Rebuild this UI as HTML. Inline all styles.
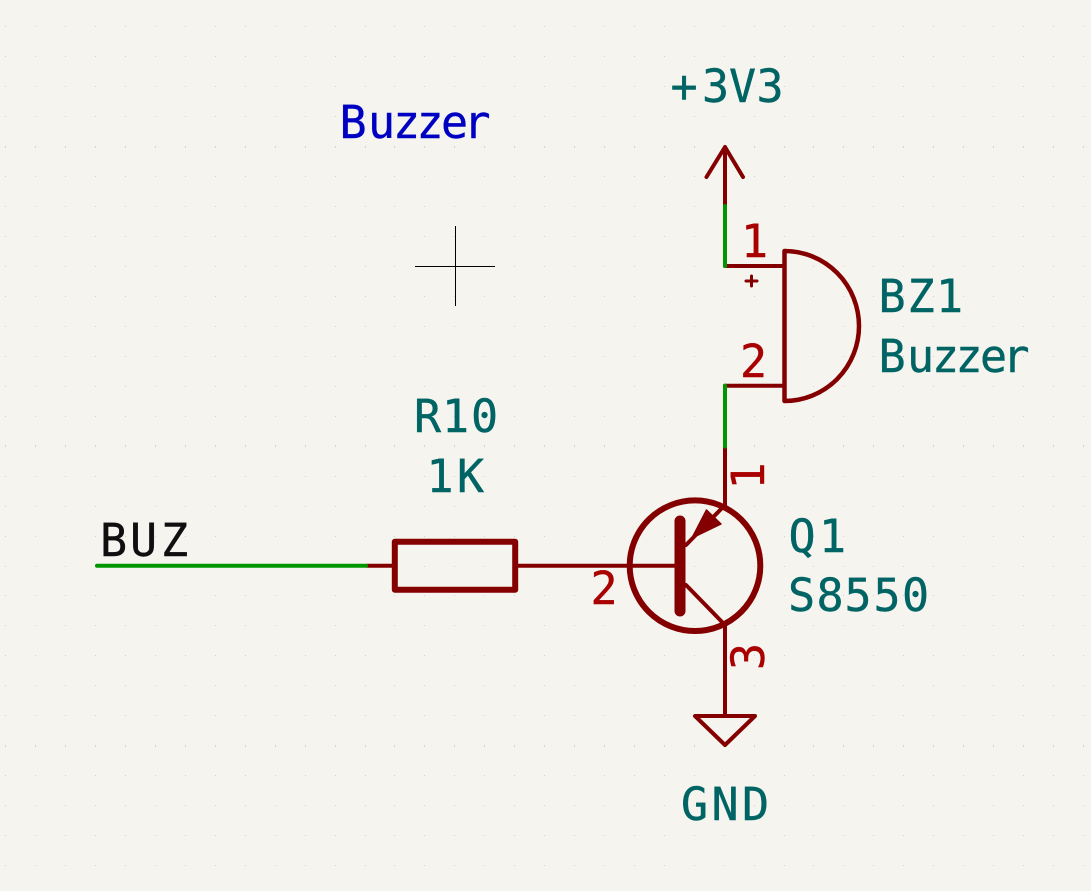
<!DOCTYPE html>
<html>
<head>
<meta charset="utf-8">
<title>Buzzer schematic</title>
<style>
html,body{margin:0;padding:0;background:#f5f4ef;width:1091px;height:891px;overflow:hidden}
svg{display:block}
text{font-family:"DejaVu Sans Mono","Liberation Mono",monospace;font-size:45px;text-anchor:middle;stroke-width:.4;stroke:currentColor}
.t{fill:#006464;color:#006464}
.p{fill:#a90000;color:#a90000}
.s{stroke:#840000;fill:none;stroke-linecap:round;stroke-linejoin:round}
.w{stroke:#009600;fill:none;stroke-width:4;stroke-linecap:round}
</style>
</head>
<body>
<svg xmlns="http://www.w3.org/2000/svg" width="1091" height="891" viewBox="0 0 1091 891">
<defs>
<path id="row" d="M5 0h1v1h-1zM35 0h1v1h-1zM65 0h1v1h-1zM95 0h1v1h-1zM125 0h1v1h-1zM155 0h1v1h-1zM185 0h1v1h-1zM215 0h1v1h-1zM245 0h1v1h-1zM275 0h1v1h-1zM305 0h1v1h-1zM335 0h1v1h-1zM365 0h1v1h-1zM394 0h1v1h-1zM424 0h1v1h-1zM454 0h1v1h-1zM484 0h1v1h-1zM514 0h1v1h-1zM544 0h1v1h-1zM574 0h1v1h-1zM604 0h1v1h-1zM634 0h1v1h-1zM664 0h1v1h-1zM694 0h1v1h-1zM724 0h1v1h-1zM754 0h1v1h-1zM784 0h1v1h-1zM813 0h1v1h-1zM843 0h1v1h-1zM873 0h1v1h-1zM903 0h1v1h-1zM933 0h1v1h-1zM963 0h1v1h-1zM993 0h1v1h-1zM1023 0h1v1h-1zM1053 0h1v1h-1zM1083 0h1v1h-1z"/>
</defs>
<rect width="1091" height="891" fill="#f5f4ef"/>
<g fill="#d3d2cd" shape-rendering="crispEdges">
<use href="#row" y="26"/><use href="#row" y="56"/><use href="#row" y="86"/><use href="#row" y="116"/><use href="#row" y="146"/><use href="#row" y="147"/><use href="#row" y="176"/><use href="#row" y="206"/><use href="#row" y="236"/><use href="#row" y="266"/><use href="#row" y="296"/><use href="#row" y="326"/><use href="#row" y="356"/><use href="#row" y="386"/><use href="#row" y="416"/><use href="#row" y="445"/><use href="#row" y="446"/><use href="#row" y="476"/><use href="#row" y="506"/><use href="#row" y="536"/><use href="#row" y="566"/><use href="#row" y="595"/><use href="#row" y="625"/><use href="#row" y="655"/><use href="#row" y="685"/><use href="#row" y="715"/><use href="#row" y="745"/><use href="#row" y="746"/><use href="#row" y="775"/><use href="#row" y="805"/><use href="#row" y="835"/><use href="#row" y="865"/>
</g>

<!-- crosshair -->
<path d="M415 266.5H495M455.5 226V306" stroke="#000" stroke-width="1" fill="none"/>

<!-- power symbol -->
<path class="s" stroke-width="4" d="M725 206V147M706.5 177L725 147L743 177"/>
<!-- buzzer -->
<path class="s" stroke-width="4" d="M725 266H784M725 385.7H784"/>
<path class="s" stroke-width="4.5" d="M784.5 251V401A74.5 75 0 0 0 784.5 251Z"/>
<path class="s" stroke-width="3" d="M746 281H757M751.5 276V286" stroke-linecap="butt"/>
<!-- transistor -->
<path class="s" stroke-width="4" d="M725 446V505L686 545M686 585L725 625V716"/>
<circle cx="695" cy="565.7" r="65.3" fill="none" stroke="#840000" stroke-width="6"/>
<path class="s" stroke-width="11" d="M680 521V611"/>
<path d="M706.5 510L721 524L692 538Z" fill="#840000" stroke="#840000" stroke-width="1.5" stroke-linejoin="round"/>
<path class="s" stroke-width="4" d="M367 565.7H394M515 565.7H680"/>
<!-- resistor -->
<rect x="394.8" y="541.8" width="120.4" height="48" fill="none" stroke="#840000" stroke-width="6" stroke-linejoin="round"/>
<!-- gnd -->
<path class="s" stroke-width="4" d="M695 716H755L725 745Z"/>

<!-- wires -->
<path class="w" stroke-linecap="butt" d="M725 206V266"/>
<circle cx="725" cy="266" r="2" fill="#009600"/>
<path class="w" stroke-linecap="butt" d="M725 385.7V446.5"/>
<circle cx="725" cy="385.7" r="2" fill="#009600"/>
<path class="w" d="M97 565.7H366"/>

<!-- text -->
<text class="t" x="684 715.5 742.5 770" y="102">+3V3</text>
<text x="353 381.5 406.5 430 454.5 477" y="138" fill="#0000c2" color="#0000c2">Buzzer</text>
<text class="t" x="892 921 949.5" y="312">BZ1</text>
<text class="t" x="892 920.5 945.5 969 993.5 1016" y="372">Buzzer</text>
<text class="t" x="427.5 455.5 484.5" y="432">R10</text>
<text class="t" x="440 470.5" y="492">1K</text>
<text x="113.5 143.5 174.5" y="556" fill="#0f0f0f" color="#0f0f0f">BUZ</text>
<text class="t" x="802 832.5" y="552">Q1</text>
<text class="t" x="801.5 830 858 887 915.5" y="611">S8550</text>
<text class="t" x="694.5 725 755.5" y="820">GND</text>
<text class="p" x="754.5" y="257">1</text>
<text class="p" x="753.5" y="377">2</text>
<text class="p" x="604" y="604">2</text>
<text class="p" transform="translate(764 476) rotate(-90)">1</text>
<text class="p" transform="translate(764 656.5) rotate(-90)">3</text>
</svg>
</body>
</html>
